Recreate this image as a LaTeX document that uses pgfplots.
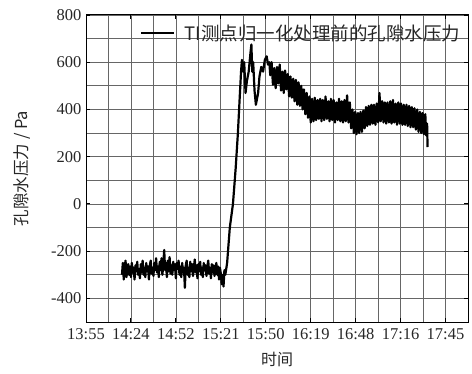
\documentclass[border=0pt]{standalone}
\usepackage{pgfplots}
\pgfplotsset{compat=1.18}
\usepackage{fontspec}
\setmainfont{Liberation Serif}
\newfontfamily\cjk{Noto Sans CJK SC}
\begin{document}
\begin{tikzpicture}
\begin{axis}[
  scale only axis, width=382pt, height=307pt,
  xmin=0, xmax=8.5, ymin=-500, ymax=800,
  xtick={0,...,8},
  xticklabels={13:55,14:24,14:52,15:21,15:50,16:19,16:48,17:16,17:45},
  ytick={-400,-200,0,200,400,600,800},
  minor x tick num=1, minor y tick num=1,
  grid=both,
  major grid style={black!60, line width=0.7pt},
  minor grid style={black!60, line width=0.7pt},
  tick align=inside, major tick length=4pt, minor tick length=0pt,
  tick style={black, line width=0.9pt},
  axis line style={black, line width=1pt},
  /pgf/number format/assume math mode=true,
  ticklabel style={font=\fontsize{16.5}{16.5}\selectfont, text=black!85},
  xticklabel style={yshift=-3pt},
  yticklabel style={xshift=-1pt},
  xlabel={\cjk\fontsize{16}{16}\selectfont 时间},
  ylabel={\cjk\fontsize{16.5}{16.5}\selectfont 孔隙水压力 / Pa},
  xlabel style={yshift=-6pt, text=black!85},
  ylabel style={yshift=14pt, text=black!85},
  legend style={at={(0.985,0.941)}, anchor=east, draw=none, fill=none,
    font=\cjk\fontsize{18.5}{18.5}\selectfont, text=black!85, inner sep=0pt},
  legend image code/.code={\draw[black, line width=1.6pt] (0pt,0pt) -- (33pt,0pt); \path (40pt,0pt);},
  legend cell align=left,
]
\addplot[black, line width=2.2pt, line join=round] coordinates {
(0.80,-300)(0.82,-250)(0.84,-320)(0.86,-270)(0.88,-240)(0.90,-310)(0.92,-280)(0.94,-255)(0.96,-300)(0.98,-265)
(1.00,-310)(1.02,-250)(1.04,-290)(1.06,-270)(1.08,-320)(1.10,-260)(1.12,-285)(1.14,-245)(1.16,-300)(1.18,-275)
(1.20,-315)(1.22,-255)(1.24,-290)(1.26,-240)(1.28,-300)(1.30,-270)(1.32,-310)(1.34,-250)(1.36,-285)(1.38,-265)
(1.40,-320)(1.42,-260)(1.44,-240)(1.46,-295)(1.48,-270)(1.50,-305)(1.52,-250)(1.54,-280)(1.56,-230)(1.58,-290)
(1.60,-265)(1.62,-310)(1.64,-245)(1.66,-280)(1.68,-230)(1.70,-300)(1.72,-255)(1.74,-195)(1.76,-280)(1.78,-250)
(1.80,-310)(1.82,-240)(1.84,-285)(1.86,-225)(1.88,-295)(1.90,-260)(1.92,-300)(1.94,-245)(1.96,-280)(1.98,-255)
(2.00,-315)(2.02,-250)(2.04,-275)(2.06,-240)(2.08,-300)(2.10,-265)(2.12,-310)(2.14,-250)(2.16,-290)(2.18,-270)
(2.20,-355)(2.22,-260)(2.24,-240)(2.26,-300)(2.28,-270)(2.30,-310)(2.32,-245)(2.34,-285)(2.36,-255)(2.38,-305)
(2.40,-270)(2.42,-235)(2.44,-290)(2.46,-260)(2.48,-315)(2.50,-255)(2.52,-285)(2.54,-245)(2.56,-300)(2.58,-270)
(2.60,-310)(2.62,-250)(2.64,-280)(2.66,-260)(2.68,-305)(2.70,-265)(2.72,-240)(2.74,-295)(2.76,-270)(2.78,-315)
(2.80,-255)(2.82,-290)(2.84,-260)(2.86,-305)(2.88,-275)(2.90,-250)(2.92,-300)(2.94,-265)(2.96,-320)(2.98,-270)
(3.00,-295)(3.02,-340)(3.04,-300)(3.06,-350)(3.08,-280)(3.10,-300)
(3.14,-250)(3.20,-100)(3.27,0)(3.33,150)(3.38,300)(3.42,450)(3.45,560)(3.47,610)(3.50,560)(3.52,600)
(3.55,470)(3.58,520)(3.62,560)(3.66,640)(3.68,675)(3.70,560)(3.72,600)(3.75,480)(3.78,420)(3.80,440)
(3.83,470)(3.86,540)(3.90,580)(3.94,560)(3.98,610)(4.02,625)(4.05,590)(4.08,600)(4.10,545)
(4.13,600)(4.16,505)(4.19,575)(4.22,490)(4.25,580)(4.28,510)(4.31,590)(4.34,480)(4.37,560)(4.40,470)
(4.43,565)(4.46,485)(4.49,550)(4.52,455)(4.55,540)(4.58,450)(4.61,530)(4.64,435)(4.67,525)(4.70,420)
(4.73,515)(4.76,415)(4.79,500)(4.82,400)(4.85,485)(4.88,380)(4.91,470)(4.94,365)(4.97,455)(5.00,345)
(5.03,445)(5.06,350)(5.09,450)(5.12,355)(5.15,440)(5.18,360)(5.21,445)(5.24,350)(5.27,440)(5.30,355)
(5.33,455)(5.36,360)(5.39,435)(5.42,350)(5.45,445)(5.48,355)(5.51,440)(5.54,345)(5.57,430)(5.60,355)
(5.63,445)(5.66,350)(5.69,435)(5.72,345)(5.75,440)(5.78,350)(5.81,460)(5.84,345)(5.87,430)(5.90,320)
(5.93,400)(5.96,300)(5.99,390)(6.02,295)(6.05,385)(6.08,300)(6.11,390)(6.14,305)(6.17,395)(6.20,320)
(6.23,410)(6.26,330)(6.29,415)(6.32,335)(6.35,420)(6.38,340)(6.41,420)(6.44,335)(6.47,425)(6.50,345)
(6.53,470)(6.56,350)(6.59,435)(6.62,345)(6.65,430)(6.68,340)(6.71,430)(6.74,345)(6.77,435)(6.80,340)
(6.83,440)(6.86,345)(6.89,425)(6.92,335)(6.95,430)(6.98,340)(7.01,425)(7.04,335)(7.07,420)(7.10,335)
(7.13,420)(7.16,330)(7.19,415)(7.22,325)(7.25,410)(7.28,325)(7.31,405)(7.34,315)(7.37,400)(7.40,305)
(7.43,390)(7.46,300)(7.49,385)(7.52,295)(7.55,380)(7.57,290)(7.59,340)(7.60,241)
};
\addlegendentry{TI测点归一化处理前的孔隙水压力}
\end{axis}
\pgfresetboundingbox
\path[use as bounding box] ([shift={(-86pt,-51pt)}]current axis.south west) rectangle ([shift={(4pt,15pt)}]current axis.north east);
\end{tikzpicture}
\end{document}
